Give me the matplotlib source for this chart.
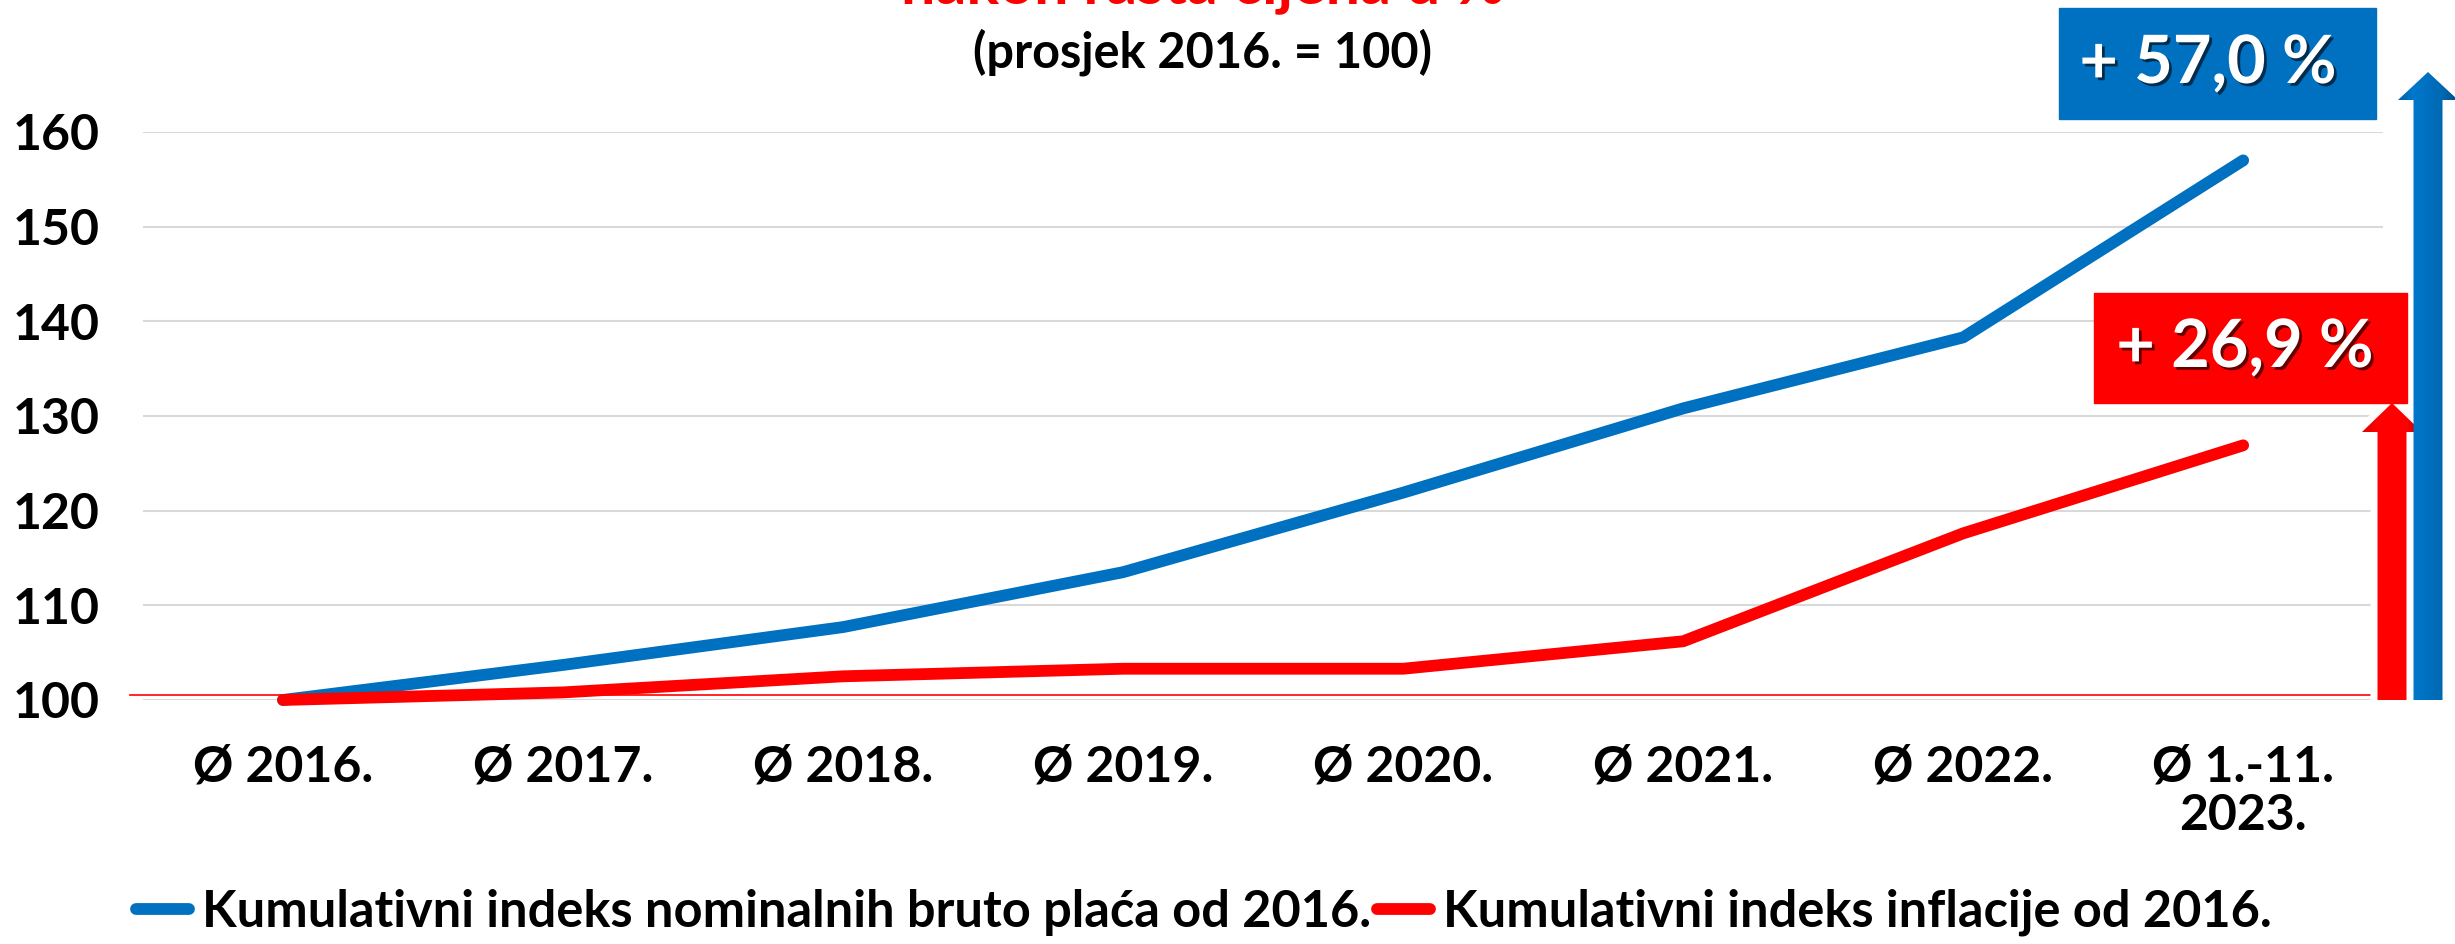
import numpy as np
import matplotlib
matplotlib.use('Agg')
import matplotlib.pyplot as plt
import matplotlib.patheffects as pe
from matplotlib.patches import Rectangle, Polygon
from matplotlib.colors import LinearSegmentedColormap
from matplotlib.lines import Line2D

plt.rcParams['font.family'] = ['Lato', 'DejaVu Sans']
plt.rcParams['font.weight'] = 'bold'

# podaci
kategorije = ['Ø 2016.', 'Ø 2017.', 'Ø 2018.', 'Ø 2019.', 'Ø 2020.',
              'Ø 2021.', 'Ø 2022.', 'Ø 1.-11.\n2023.']
place = [100, 103.7, 107.7, 113.5, 121.9, 130.8, 138.3, 157.0]
inflacija = [100, 100.8, 102.5, 103.3, 103.3, 106.2, 117.6, 126.9]
oznake = ['+ 57,0 %', '+ 26,9 %']
legenda = ['Kumulativni indeks nominalnih bruto plaća od 2016.',
           'Kumulativni indeks inflacije od 2016.']

PLAVA = '#0070C0'
CRVENA = '#FF0000'

fig = plt.figure(figsize=(24.55, 9.44), dpi=100)
ax = fig.add_axes([0.05825, 0.2585, 0.9125, 0.6017])

x = np.arange(len(kategorije))
ax.plot(x, place, color=PLAVA, lw=8.5, solid_capstyle='round', clip_on=False, zorder=4)
ax.plot(x, inflacija, color=CRVENA, lw=8.5, solid_capstyle='round', clip_on=False, zorder=4)
ax.axhline(100.55, xmin=-0.006, xmax=0.994, color=CRVENA, lw=1.2, clip_on=False, zorder=3)

ax.set_xlim(-0.5, 7.5)
ax.set_ylim(100, 160)
ax.set_yticks(np.arange(100, 161, 10))
ax.set_xticks(x)
ax.set_xticklabels(kategorije, linespacing=1.1)
ax.grid(axis='y', color='#D9D9D9', lw=1.5)
ax.set_axisbelow(True)
for s in ax.spines.values():
    s.set_visible(False)
ax.tick_params(axis='both', length=0, labelsize=36)
ax.tick_params(axis='y', pad=31)
ax.tick_params(axis='x', pad=32)

# naslov (gornji red je odrezan na rubu slike)
fig.text(0.49, 1 - 3 / 944, 'nakon rasta cijena u %', color=CRVENA, ha='center',
         va='baseline', fontsize=44, weight='bold')
fig.text(0.49, 1 - 52 / 944, '(prosjek 2016. = 100)', ha='center', va='center',
         fontsize=35, weight='bold')

# legenda
h = [Line2D([], [], color=PLAVA, lw=8.5, solid_capstyle='round'),
     Line2D([], [], color=CRVENA, lw=8.5, solid_capstyle='round')]
fig.legend(h, legenda, loc='lower center', bbox_to_anchor=(0.4904, -0.04), ncol=2,
           frameon=False, fontsize=36.4, handlelength=1.05, handletextpad=0.25,
           columnspacing=0.12)

# sloj za strelice i okvire (pikseli)
ov = fig.add_axes([0, 0, 1, 1], zorder=5)
ov.set_xlim(0, 2455)
ov.set_ylim(944, 0)
ov.axis('off')
ov.patch.set_alpha(0)


def strelica(cx, hw, hhw, vrh, baza, dno, boje):
    pts = [(cx - hw, dno), (cx - hw, baza), (cx - hhw, baza), (cx, vrh),
           (cx + hhw, baza), (cx + hw, baza), (cx + hw, dno)]
    okvir = Polygon(pts, closed=True, fc='white', ec='white', lw=10, joinstyle='miter',
                    path_effects=[pe.SimplePatchShadow(offset=(3, -3), shadow_rgbFace='#999999', alpha=0.45),
                                  pe.Normal()])
    ov.add_patch(okvir)
    klip = Polygon(pts, closed=True, fc='none', ec='none')
    ov.add_patch(klip)
    cmap = LinearSegmentedColormap.from_list('g', boje)
    img = ov.imshow(np.linspace(0, 1, 256)[None, :], cmap=cmap, aspect='auto',
                    extent=(cx - hhw, cx + hhw, dno, vrh), zorder=3)
    img.set_clip_path(klip)


strelica(2392, 14.5, 30, 403, 432, 700, ['#E00000', '#FF0000', '#FF0000', '#FF0000', '#A80000'])
strelica(2428, 14.5, 30, 72, 100, 700, ['#005FA8', '#0078CC', '#0070C0', '#0068B0', '#004C85'])
ov.set_xlim(0, 2455)
ov.set_ylim(944, 0)

sjena = [pe.SimplePatchShadow(offset=(2, -2), shadow_rgbFace='black', alpha=0.6), pe.Normal()]
ov.add_patch(Rectangle((2059, 8), 317, 111, color=PLAVA, zorder=6))
ov.text(2208, 64, oznake[0], color='white', fontsize=48, weight='bold', ha='center',
        va='center', zorder=7, path_effects=sjena)
ov.add_patch(Rectangle((2094, 293), 313, 110, color=CRVENA, zorder=6))
ov.text(2245, 348, oznake[1], color='white', fontsize=48, weight='bold', ha='center',
        va='center', zorder=7, path_effects=sjena)

fig.savefig('out.png', dpi=100)
